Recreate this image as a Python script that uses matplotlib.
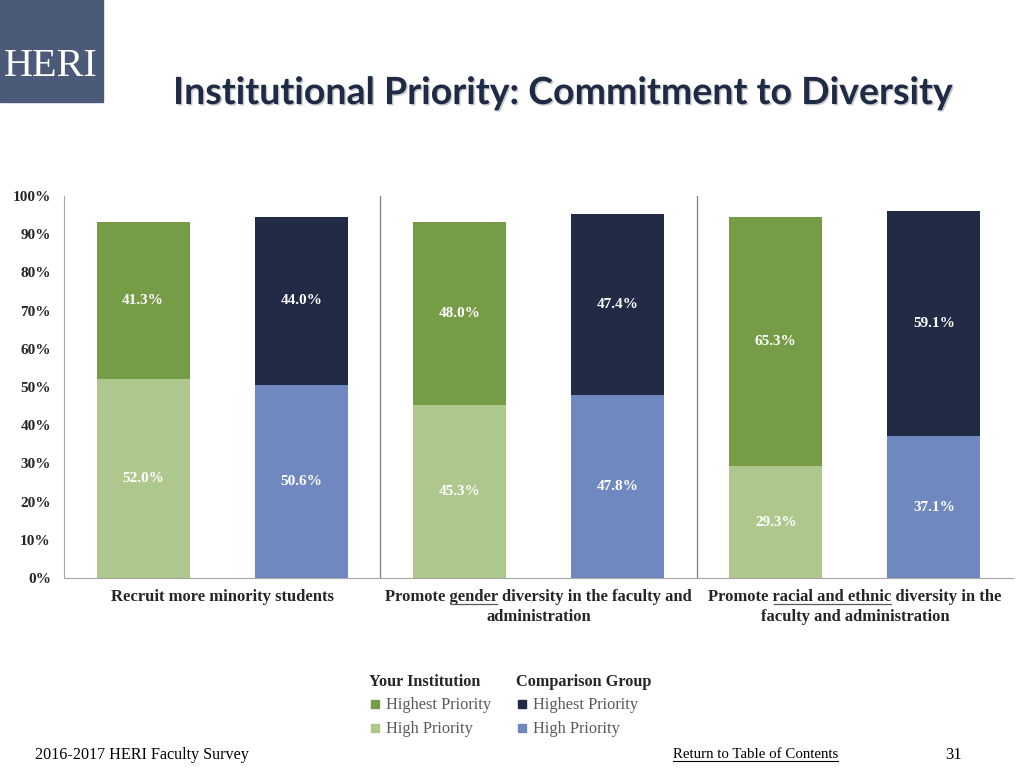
import matplotlib.pyplot as plt
import matplotlib.patheffects as pe
from matplotlib.patches import Rectangle
import numpy as np

categories = [
    ['Recruit more minority students'],
    ['Promote gender diversity in the faculty and', 'administration'],
    ['Promote racial and ethnic diversity in the', 'faculty and administration'],
]
underlined = [None, ('Promote ', 'gender'), ('Promote ', 'racial and ethnic')]

# Your institution
inst_high = [52.0, 45.3, 29.3]
inst_highest = [41.3, 48.0, 65.3]
# Comparison group
comp_high = [50.6, 47.8, 37.1]
comp_highest = [44.0, 47.4, 59.1]

yticks = list(range(0, 101, 10))

c_inst_highest = '#779c48'
c_inst_high = '#adc78d'
c_comp_highest = '#212b45'
c_comp_high = '#6f88bf'
serif = 'Liberation Serif'
dark = '#262626'

fig = plt.figure(figsize=(10.24, 7.68), dpi=100)
ax = fig.add_axes([64/1024, 1 - 578/768, 949/1024, 382/768])

x = np.arange(len(categories))
w = 0.294
xa = x + 0.25
xb = x + 0.75

ax.bar(xa, inst_high, w, color=c_inst_high)
ax.bar(xa, inst_highest, w, bottom=inst_high, color=c_inst_highest)
ax.bar(xb, comp_high, w, color=c_comp_high)
ax.bar(xb, comp_highest, w, bottom=comp_high, color=c_comp_highest)

lab = dict(ha='center', va='center', color='white', fontsize=11,
           fontweight='bold', family=serif)
for i in range(len(categories)):
    ax.text(xa[i], inst_high[i] / 2, f'{inst_high[i]:.1f}%', **lab)
    ax.text(xa[i], inst_high[i] + inst_highest[i] / 2, f'{inst_highest[i]:.1f}%', **lab)
    ax.text(xb[i], comp_high[i] / 2, f'{comp_high[i]:.1f}%', **lab)
    ax.text(xb[i], comp_high[i] + comp_highest[i] / 2, f'{comp_highest[i]:.1f}%', **lab)

for sep in x[1:]:
    ax.plot([sep, sep], [0, 100], color='#7f7f7f', lw=0.9)

ax.set_xlim(0, len(categories))
ax.set_ylim(0, 100)
ax.set_yticks(yticks)
ax.set_yticklabels([f'{t}%' for t in yticks], family=serif, fontweight='bold',
                   fontsize=11, color=dark)
ax.set_xticks([])
ax.tick_params(axis='y', length=0, pad=9.5)
for s in ['top', 'right']:
    ax.spines[s].set_visible(False)
for s in ['left', 'bottom']:
    ax.spines[s].set_color('#a6a6a6')

# category labels, with underlined words
renderer = fig.canvas.get_renderer()
cat_font = dict(family=serif, fontsize=12, fontweight='bold', color=dark)
for i, lines in enumerate(categories):
    for j, line in enumerate(lines):
        t = ax.text(i + 0.5, -3.0 - j * 5.24, line, ha='center', va='top', **cat_font)
        if j == 0 and underlined[i] is not None:
            pre, word = underlined[i]
            bb = t.get_window_extent(renderer)
            tmp1 = fig.text(0, 0, pre, **cat_font)
            tmp2 = fig.text(0, 0, pre + word, **cat_font)
            w1 = tmp1.get_window_extent(renderer).width
            w2 = tmp2.get_window_extent(renderer).width
            tmp1.remove()
            tmp2.remove()
            y0 = (bb.y0 + 1) / 768
            fig.add_artist(plt.Line2D([(bb.x0 + w1 + 1) / 1024, (bb.x0 + w2 - 1) / 1024],
                                      [y0, y0], color='#595959', lw=0.9,
                                      transform=fig.transFigure))

# title
fig.text(562/1024, 1 - 93/768, 'Institutional Priority: Commitment to Diversity',
         ha='center', va='center', family='Lato', fontweight='bold', fontsize=27,
         color='#1f2a44',
         path_effects=[pe.withSimplePatchShadow(offset=(1, -1), shadow_rgbFace='#9aa0aa',
                                                alpha=0.6)])

# logo
fig.patches.append(Rectangle((0, 1 - 102/768), 103/1024, 102/768, color='#4b5a78',
                             transform=fig.transFigure, figure=fig))
fig.text(51/1024, 1 - 66/768, 'HERI', ha='center', va='center', color='white',
         family=serif, fontsize=29)

# legend
def legend_col(x0, head, items):
    fig.text(x0/1024, 1 - 682/768, head, ha='left', va='center', family=serif,
             fontweight='bold', fontsize=11.7, color=dark)
    for k, (name, col) in enumerate(items):
        yc = 705 + k * 24
        fig.patches.append(Rectangle(((x0 + 2)/1024, 1 - (yc + 3)/768), 8/1024, 8/768,
                                     color=col, transform=fig.transFigure, figure=fig))
        fig.text((x0 + 17)/1024, 1 - yc/768, name, ha='left', va='center',
                 family=serif, fontsize=11.8, color='#595959')

legend_col(369, 'Your Institution', [('Highest Priority', c_inst_highest),
                                     ('High Priority', c_inst_high)])
legend_col(516, 'Comparison Group', [('Highest Priority', c_comp_highest),
                                     ('High Priority', c_comp_high)])

# footer
fig.text(35/1024, 1 - 755/768, '2016-2017 HERI Faculty Survey', ha='left', va='center',
         family=serif, fontsize=11.6, color='black')
ft = fig.text(673/1024, 1 - 755/768, 'Return to Table of Contents', ha='left',
              va='center', family=serif, fontsize=10.7, color='black')
fb = ft.get_window_extent(renderer)
fig.add_artist(plt.Line2D([fb.x0/1024, fb.x1/1024], [(fb.y0 + 1)/768, (fb.y0 + 1)/768],
                          color='black', lw=0.8, transform=fig.transFigure))
fig.text(953/1024, 1 - 755/768, '31', ha='center', va='center', family=serif,
         fontsize=12, color='black')

fig.savefig('out.png', dpi=100)
